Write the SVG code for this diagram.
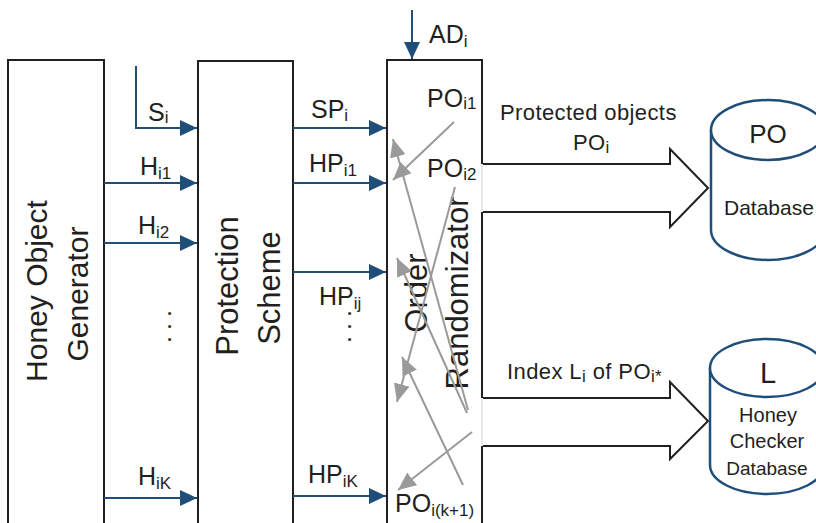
<svg xmlns="http://www.w3.org/2000/svg" width="816" height="523" viewBox="0 0 816 523">
  <defs>
    <style>
      text { font-family: "Liberation Sans", Arial, sans-serif; fill: #231f20; }
      .box { fill: none; stroke: #231f20; stroke-width: 2; }
      .big { font-size: 31px; }
      .lbl { font-size: 25px; }
      .sub { font-size: 17px; }
      .note { font-size: 22px; letter-spacing: 0.4px; }
      .flow { stroke: #1f4e79; stroke-width: 2; fill: none; marker-end: url(#ab); }
      .shuf { stroke: #9a9a9a; stroke-width: 2; fill: none; marker-end: url(#ag); }
      .fat { fill: #ffffff; stroke: #231f20; stroke-width: 2; stroke-linejoin: miter; }
      .db { fill: #ffffff; stroke: #1f4e79; stroke-width: 2.5; }
      .mid { text-anchor: middle; }
    </style>
    <marker id="ab" markerWidth="18" markerHeight="18" refX="17" refY="8" orient="auto" markerUnits="userSpaceOnUse">
      <path d="M0,0 L17,8 L0,16 z" fill="#1f4e79"/>
    </marker>
    <marker id="ag" markerWidth="20" markerHeight="18" refX="18" refY="8" orient="auto" markerUnits="userSpaceOnUse">
      <path d="M0,0 L18,8 L0,16 z" fill="#9a9a9a"/>
    </marker>
  </defs>

  <!-- Honey Object Generator -->
  <g id="generator">
    <rect class="box" x="8" y="60" width="96" height="480"/>
    <text class="mid" font-size="30" transform="translate(47,291) rotate(-90)">Honey Object</text>
    <text class="mid" font-size="30" transform="translate(88,294) rotate(-90)">Generator</text>
  </g>

  <!-- Protection Scheme -->
  <g id="protection">
    <rect class="box" x="198" y="61" width="95" height="480"/>
    <text class="mid big" transform="translate(238,286) rotate(-90)">Protection</text>
    <text class="mid big" transform="translate(280,288) rotate(-90)">Scheme</text>
  </g>

  <!-- Order Randomizator (right side left open where outputs leave) -->
  <g id="randomizator">
    <path d="M482,164 V212 M482,398 V446" stroke="#d4d4d4" stroke-width="1" fill="none"/>
    <path class="box" d="M387,540 V60 H482 V164 M482,212 V398 M482,446 V540"/>
    <text class="mid big" transform="translate(427,293) rotate(-90)">Order</text>
    <text class="mid big" transform="translate(468,293) rotate(-90)">Randomizator</text>
    <text class="lbl" x="427" y="107">PO<tspan class="sub" dy="2">i1</tspan></text>
    <text class="lbl" x="427" y="177">PO<tspan class="sub" dy="3">i2</tspan></text>
    <text class="lbl" x="395" y="512">PO<tspan class="sub" dy="4">i(k+1)</tspan></text>
  </g>

  <!-- PO Database -->
  <g id="po-db">
    <path class="db" d="M711,130 A57,30 0 0 1 825,130 V230 A57,30 0 0 1 711,230 Z"/>
    <path class="db" d="M711,130 A57,30 0 0 0 825,130" fill="none"/>
    <text class="mid" font-size="26" x="768" y="143">PO</text>
    <text font-size="21" x="724" y="215">Database</text>
  </g>

  <!-- Honey Checker Database -->
  <g id="l-db">
    <path class="db" d="M710,368 A57,29 0 0 1 824,368 V465 A57,29 0 0 1 710,465 Z"/>
    <path class="db" d="M710,368 A57,29 0 0 0 824,368" fill="none"/>
    <text class="mid" font-size="29" x="768" y="383">L</text>
    <text class="mid" font-size="20" x="768" y="422">Honey</text>
    <text class="mid" font-size="20" x="767" y="448">Checker</text>
    <text class="mid" font-size="19" x="767" y="475">Database</text>
  </g>

  <!-- connectors -->
  <g id="connectors">
    <!-- inputs to the protection scheme -->
    <path class="flow" d="M136,66 V128 H197"/>
    <path class="flow" d="M104,183 H197"/>
    <path class="flow" d="M104,243 H197"/>
    <path class="flow" d="M104,498 H197"/>
    <!-- protected items into the randomizator -->
    <path class="flow" d="M293,128 H386"/>
    <path class="flow" d="M293,183 H386"/>
    <path class="flow" d="M293,272 H386"/>
    <path class="flow" d="M293,496 H386"/>
    <path class="flow" d="M412,10 V59"/>

    <!-- shuffle paths -->
    <path class="shuf" d="M454,122 L393,180"/>
    <path class="shuf" d="M455,187 L397,402"/>
    <path class="shuf" d="M468,410 L393,139"/>
    <path class="shuf" d="M467,413 L397,258"/>
    <path class="shuf" d="M463,485 L402,357"/>
    <path class="shuf" d="M472,432 L398,490"/>

    <!-- outputs to the databases -->
    <path class="fat" d="M483,164 H670 V149 L708,188 L670,227 V212 H483"/>
    <path class="fat" d="M483,398 H670 V382 L708,421 L670,459 V446 H483"/>
  </g>

  <!-- labels on the connectors -->
  <g id="labels">
    <text class="lbl" x="148" y="121">S<tspan class="sub" dy="2">i</tspan></text>
    <text class="lbl" x="140" y="175">H<tspan class="sub" dy="4">i1</tspan></text>
    <text class="lbl" x="138" y="234">H<tspan class="sub" dy="4">i2</tspan></text>
    <text class="lbl" x="138" y="485">H<tspan class="sub" dy="4">iK</tspan></text>
    <text class="lbl" letter-spacing="6" transform="translate(171,343) rotate(-90)">...</text>

    <text class="lbl" x="311" y="118">SP<tspan class="sub" dy="3">i</tspan></text>
    <text class="lbl" x="309" y="172">HP<tspan class="sub" dy="4">i1</tspan></text>
    <text class="lbl" x="319" y="305">HP<tspan class="sub" dy="4">ij</tspan></text>
    <text class="lbl" x="308" y="483">HP<tspan class="sub" dy="4">iK</tspan></text>
    <text class="lbl" letter-spacing="6" transform="translate(351,343) rotate(-90)">...</text>

    <text class="lbl" x="429" y="43">AD<tspan class="sub" dy="4">i</tspan></text>

    <text class="note" x="500" y="120">Protected objects</text>
    <text class="note" x="573" y="150">PO<tspan class="sub" dy="3">i</tspan></text>
    <text class="note" x="507" y="379">Index L<tspan class="sub" dy="3">i</tspan><tspan dy="-3"> of PO</tspan><tspan class="sub" dy="3">i*</tspan></text>
  </g>
</svg>
